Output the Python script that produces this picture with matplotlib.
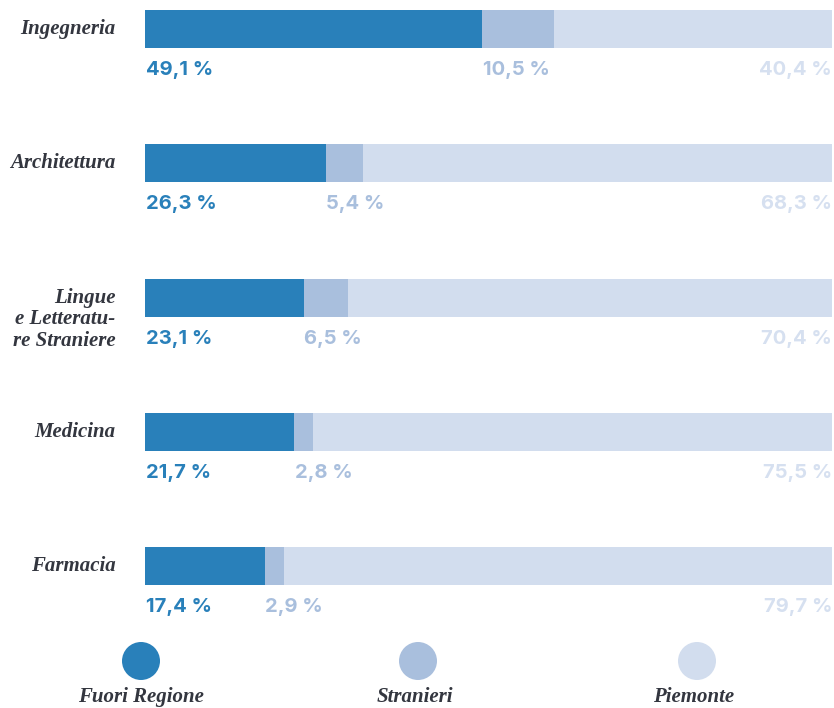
import matplotlib
matplotlib.use("Agg")
import matplotlib.pyplot as plt
from matplotlib.patches import Circle

categories = ["Ingegneria", "Architettura", "Lingue\ne Letteratu-\nre Straniere", "Medicina", "Farmacia"]
fuori_regione = [49.1, 26.3, 23.1, 21.7, 17.4]
stranieri = [10.5, 5.4, 6.5, 2.8, 2.9]
piemonte = [40.4, 68.3, 70.4, 75.5, 79.7]
series_names = ["Fuori Regione", "Stranieri", "Piemonte"]

c_dark = "#2980BA"
c_mid = "#A9BFDD"
c_light = "#D2DDEE"
c_light_txt = "#D6E0F0"
txt_col = "#33363F"

W, H = 834, 708
fig = plt.figure(figsize=(W / 100, H / 100), dpi=100)
ax = fig.add_axes([145 / W, 0, (832 - 145) / W, 1])
ax.set_xlim(0, 100)
step = 134.25
ax.set_ylim((H - 29) / step, -29 / step)
ax.axis("off")

ys = list(range(len(categories)))
bh = 38 / step
ax.barh(ys, fuori_regione, height=bh, color=c_dark, linewidth=0)
ax.barh(ys, stranieri, left=fuori_regione, height=bh, color=c_mid, linewidth=0)
left2 = [a + b for a, b in zip(fuori_regione, stranieri)]
ax.barh(ys, piemonte, left=left2, height=bh, color=c_light, linewidth=0)

vfont = dict(family=["Inter", "Open Sans", "DejaVu Sans"], fontsize=14.5, fontweight="bold", va="center")
off = 41 / step
cfont = dict(family=["Liberation Serif", "DejaVu Serif"], style="italic", fontsize=15, fontweight="bold")
for i, y in enumerate(ys):
    def fmt(v):
        return f"{v:.1f}".replace(".", ",") + " %"
    ax.text(0.15, y + off, fmt(fuori_regione[i]), color=c_dark, ha="left", **vfont)
    ax.text(fuori_regione[i] + 0.1, y + off, fmt(stranieri[i]), color=c_mid, ha="left", **vfont)
    ax.text(100, y + off, fmt(piemonte[i]), color=c_light_txt, ha="right", **vfont)
    nlines = categories[i].count("\n")
    yl = y + (nlines * 21.5 / 2) / step
    ax.text(-4.3, yl, categories[i], color=txt_col, ha="right", va="center",
            linespacing=1.1, clip_on=False, **cfont)

# legend
lax = fig.add_axes([0, 0, 1, 1], facecolor="none")
lax.set_xlim(0, W)
lax.set_ylim(H, 0)
lax.axis("off")
leg_x = [141, 418, 697]
leg_txt_x = [141, 415, 694]
for xc, xt, col, name in zip(leg_x, leg_txt_x, [c_dark, c_mid, c_light], series_names):
    lax.add_patch(Circle((xc, 661), 19, color=col, linewidth=0))
    lax.text(xt, 697, name, ha="center", va="center", color=txt_col, **cfont)

fig.savefig("out.png", dpi=100)
